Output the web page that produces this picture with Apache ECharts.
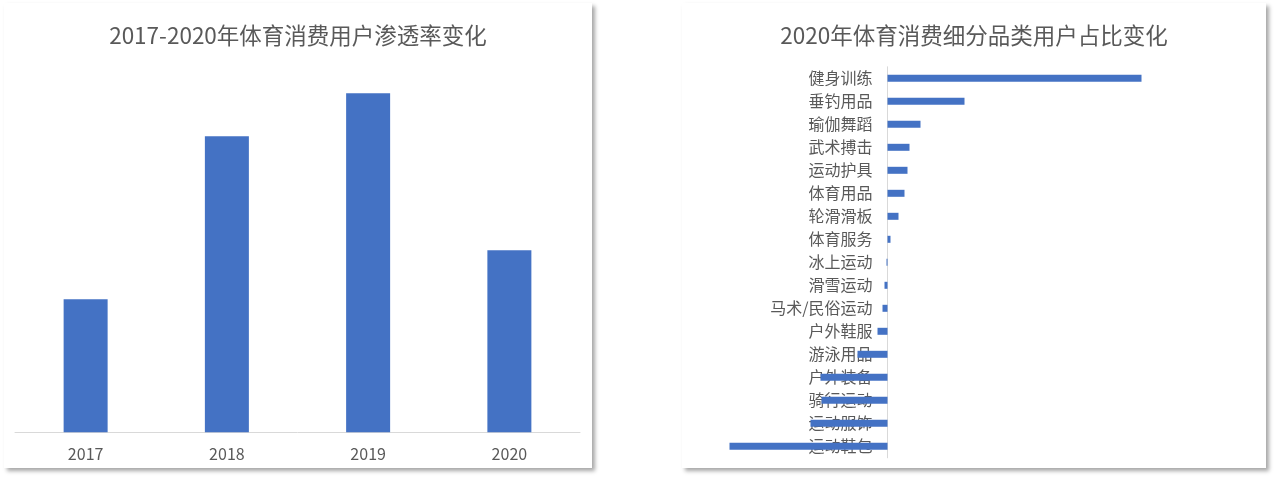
<!DOCTYPE html>
<html>
<head>
<meta charset="utf-8">
<script src="https://cdn.jsdelivr.net/npm/echarts@6/dist/echarts.min.js"></script>
<style>
    html, body { margin: 0; padding: 0; background: #fff; width: 1280px; height: 479px; overflow: hidden; }
    .card {
        position: absolute;
        top: 3px;
        height: 465px;
        background: #fff;
        box-shadow: 3px 3px 4px rgba(0, 0, 0, 0.35);
    }
    #penetration { left: 4px; width: 588px; }
    #category { left: 682px; width: 584px; }
</style>
</head>
<body>
<div class="card" id="penetration"></div>
<div class="card" id="category"></div>
<script>
// 数据
const years = ['2017', '2018', '2019', '2020'];
const penetrationValues = [13.3, 29.6, 33.9, 18.2];

const categories = ['健身训练', '垂钓用品', '瑜伽舞蹈', '武术搏击', '运动护具', '体育用品', '轮滑滑板', '体育服务',
    '冰上运动', '滑雪运动', '马术/民俗运动', '户外鞋服', '游泳用品', '户外装备', '骑行运动', '运动服饰', '运动鞋包'];
const shareChange = [25.4, 7.7, 3.3, 2.2, 2.0, 1.7, 1.1, 0.3,
    -0.1, -0.3, -0.5, -1.0, -3.0, -6.7, -6.6, -7.7, -15.8];

const FONT = '"Noto Sans CJK SC", "Microsoft YaHei", sans-serif';
const TEXT = '#595959';
const BLUE = '#4472C4';

const SHARE_MIN = -16;
const SHARE_MAX = 26;
const SHARE_GRID_WIDTH = 420;

document.addEventListener("DOMContentLoaded", function () {
    penetration()
    categoryShare()
});

function penetration() {
    const chart = echarts.init(document.getElementById('penetration'));

    chart.setOption({
        animation: false,
        textStyle: { fontFamily: FONT },
        title: {
            text: '2017-2020年体育消费用户渗透率变化',
            left: 'center',
            top: 16,
            textStyle: { fontSize: 22.5, fontWeight: 'normal', color: TEXT, fontFamily: FONT }
        },
        grid: { left: 11, width: 565, top: 29.3, bottom: 35.7, outerBoundsMode: 'none', containLabel: false },
        xAxis: {
            type: 'category',
            data: years,
            axisTick: { show: false },
            axisLine: { lineStyle: { color: '#d9d9d9', width: 1 } },
            axisLabel: { fontSize: 16, color: TEXT, margin: 14, fontFamily: FONT }
        },
        yAxis: {
            type: 'value',
            min: 0,
            max: 40,
            show: false
        },
        series: [
            {
                type: 'bar',
                data: penetrationValues,
                barWidth: 44,
                itemStyle: { color: BLUE }
            }
        ]
    });
}

function categoryShare() {
    const chart = echarts.init(document.getElementById('category'));
    // 类目轴放在零值处 (标签跟着轴走, 会被负值条形压住, 与原图一致)
    const zeroOffset = SHARE_GRID_WIDTH * (0 - SHARE_MIN) / (SHARE_MAX - SHARE_MIN);

    chart.setOption({
        animation: false,
        textStyle: { fontFamily: FONT },
        title: {
            text: '2020年体育消费细分品类用户占比变化',
            left: 'center',
            top: 16,
            textStyle: { fontSize: 22.5, fontWeight: 'normal', color: TEXT, fontFamily: FONT }
        },
        grid: { left: 45.5, width: SHARE_GRID_WIDTH, top: 63.8, height: 391, outerBoundsMode: 'none', containLabel: false },
        xAxis: {
            type: 'value',
            min: SHARE_MIN,
            max: SHARE_MAX,
            show: false
        },
        yAxis: {
            type: 'category',
            data: categories,
            inverse: true,
            offset: -zeroOffset,
            axisTick: { show: false },
            axisLine: { onZero: false, lineStyle: { color: '#d9d9d9', width: 1 } },
            axisLabel: { fontSize: 16, color: TEXT, margin: 15, fontFamily: FONT }
        },
        series: [
            {
                type: 'bar',
                data: shareChange,
                barWidth: 7,
                itemStyle: { color: BLUE }
            }
        ]
    });
}
</script>
</body>
</html>
